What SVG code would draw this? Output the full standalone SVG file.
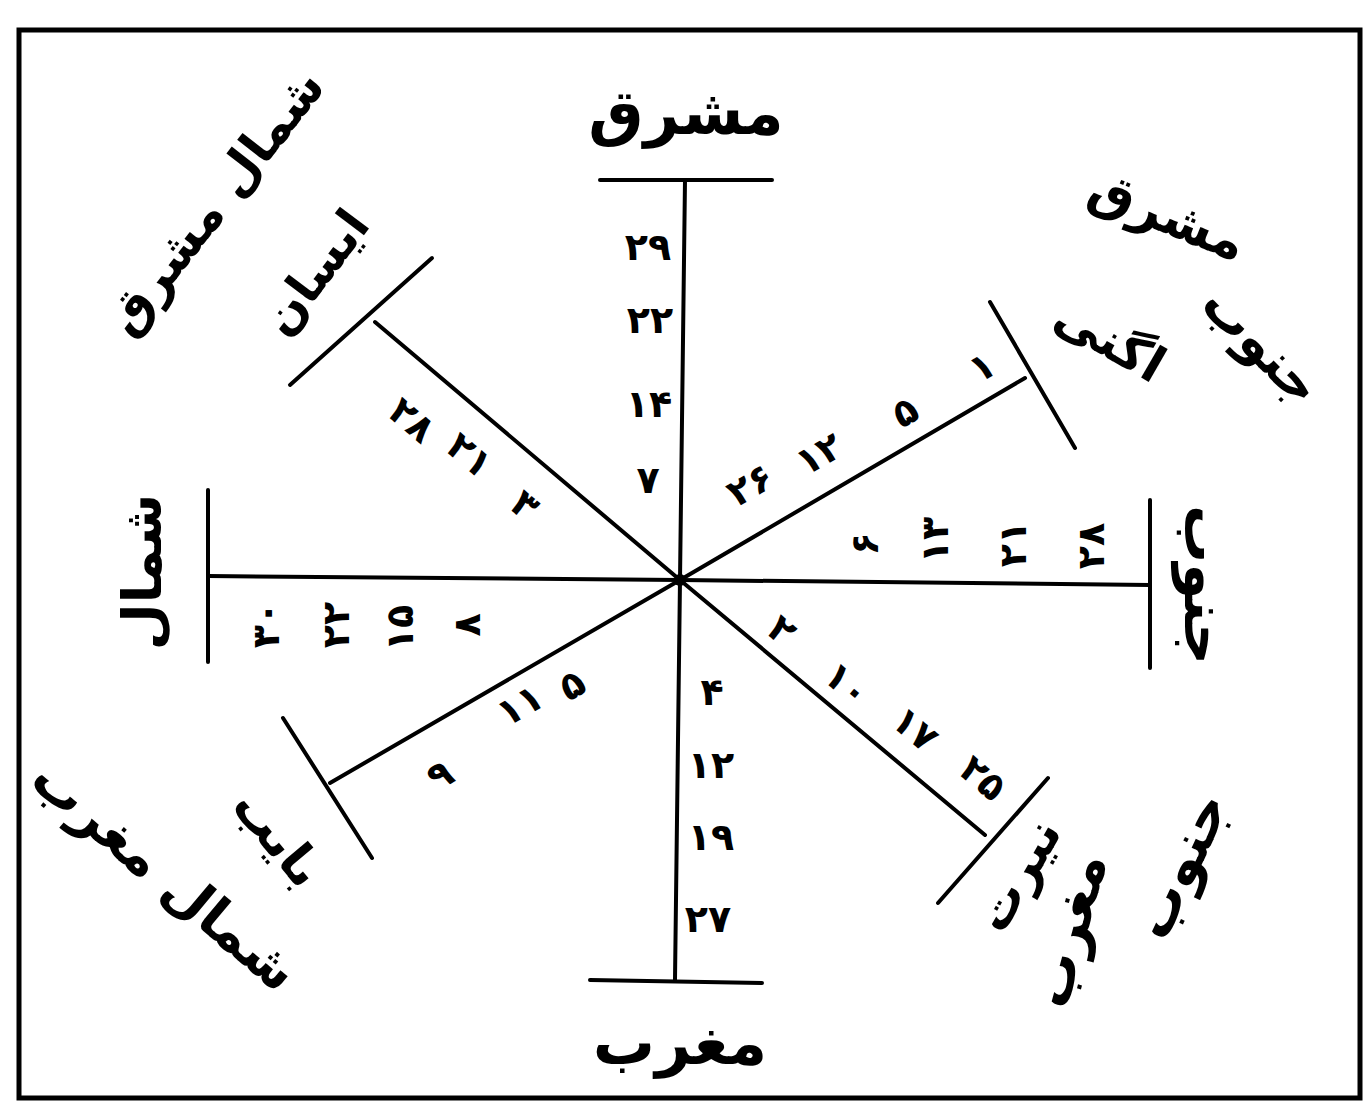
<svg xmlns="http://www.w3.org/2000/svg" width="1367" height="1112" viewBox="0 0 1367 1112">
<style>
.ln{stroke:#000;stroke-width:4;fill:none;stroke-linecap:round}
.frame{stroke:#000;stroke-width:5;fill:none}
.lbl{font-family:"DejaVu Sans",sans-serif;font-weight:bold;fill:#000;text-anchor:middle;dominant-baseline:central}
.num{font-family:"DejaVu Sans",sans-serif;font-weight:bold;fill:#000;text-anchor:middle;dominant-baseline:central;font-size:38px}
</style>
<rect width="1367" height="1112" fill="#fff"/>
<rect class="frame" x="19" y="30" width="1341" height="1068"/>
<g id="connectors">
<line class="ln" x1="680" y1="580" x2="685" y2="180"/>
<line class="ln" x1="600" y1="180" x2="772" y2="180"/>
<line class="ln" x1="680" y1="580" x2="675" y2="980"/>
<line class="ln" x1="590" y1="980" x2="762" y2="983"/>
<line class="ln" x1="680" y1="580" x2="208" y2="576"/>
<line class="ln" x1="208" y1="490" x2="208" y2="662"/>
<line class="ln" x1="680" y1="580" x2="1150" y2="585"/>
<line class="ln" x1="1150" y1="500" x2="1150" y2="668"/>
<line class="ln" x1="680" y1="580" x2="375" y2="322"/>
<line class="ln" x1="290" y1="385" x2="432" y2="258"/>
<line class="ln" x1="680" y1="580" x2="1025" y2="378"/>
<line class="ln" x1="990" y1="302" x2="1075" y2="448"/>
<line class="ln" x1="680" y1="580" x2="985" y2="835"/>
<line class="ln" x1="938" y1="903" x2="1048" y2="778"/>
<line class="ln" x1="680" y1="580" x2="330" y2="783"/>
<line class="ln" x1="283" y1="718" x2="372" y2="858"/>
<circle cx="680" cy="580" r="6" fill="#000"/>
</g>
<g id="node-east">
<text class="lbl" x="686" y="112" font-size="62">مشرق</text>
<text class="num" x="648" y="247">۲۹</text>
<text class="num" x="650" y="320">۲۲</text>
<text class="num" x="649" y="404">۱۴</text>
<text class="num" x="648" y="480">۷</text>
</g>
<g id="node-west">
<text class="lbl" x="680" y="1042" font-size="62">مغرب</text>
<text class="num" x="712" y="692">۴</text>
<text class="num" x="711" y="765">۱۲</text>
<text class="num" x="711" y="837">۱۹</text>
<text class="num" x="708" y="919">۲۷</text>
</g>
<g id="node-north">
<text class="lbl" font-size="54" transform="translate(142 572) rotate(-90)">شمال</text>
<text class="num" transform="translate(467 625) rotate(-90)">۸</text>
<text class="num" transform="translate(400 628) rotate(-90)">۱۵</text>
<text class="num" transform="translate(336 625) rotate(-90)">۲۲</text>
<text class="num" transform="translate(266 625) rotate(-90)">۳۰</text>
</g>
<g id="node-south">
<text class="lbl" font-size="58" transform="translate(1205 585) rotate(90)">جنوب</text>
<text class="num" transform="translate(865 544) rotate(-90)">۶</text>
<text class="num" transform="translate(935 540) rotate(-90)">۱۳</text>
<text class="num" transform="translate(1013 544) rotate(-90)">۲۱</text>
<text class="num" transform="translate(1091 546) rotate(-90)">۲۸</text>
</g>
<g id="node-northeast">
<text class="lbl" font-size="50" transform="translate(215 202) rotate(-52)">شمال مشرق</text>
<text class="lbl" font-size="48" transform="translate(315 272) rotate(-53)">ایسان</text>
<text class="num" transform="translate(412 420) rotate(40)">۲۸</text>
<text class="num" transform="translate(470 455) rotate(40)">۲۱</text>
<text class="num" transform="translate(525 505) rotate(40)">۳</text>
</g>
<g id="node-southeast">
<text class="lbl" font-size="52" transform="translate(1168 215) rotate(22)">مشرق</text>
<text class="lbl" font-size="52" transform="translate(1262 345) rotate(45)">جنوب</text>
<text class="lbl" font-size="50" transform="translate(1110 340) rotate(30)">اگنی</text>
<text class="num" transform="translate(750 485) rotate(-30)">۲۶</text>
<text class="num" transform="translate(819 454) rotate(-30)">۱۲</text>
<text class="num" transform="translate(905 412) rotate(-30)">۵</text>
<text class="num" transform="translate(982 367) rotate(-30)">۱</text>
</g>
<g id="node-southwest">
<text class="lbl" font-size="56" transform="translate(1180 865) rotate(-65)">جنوب</text>
<text class="lbl" font-size="56" transform="translate(1068 930) rotate(-75)">مغرب</text>
<text class="lbl" font-size="50" transform="translate(1018 875) rotate(-60)">نیرت</text>
<text class="num" transform="translate(782 630) rotate(40)">۲</text>
<text class="num" transform="translate(847 684) rotate(40)">۱۰</text>
<text class="num" transform="translate(915 729) rotate(40)">۱۷</text>
<text class="num" transform="translate(983 778) rotate(40)">۲۵</text>
</g>
<g id="node-northwest">
<text class="lbl" font-size="54" transform="translate(165 875) rotate(40)">شمال مغرب</text>
<text class="lbl" font-size="50" transform="translate(278 838) rotate(50)">بایب</text>
<text class="num" transform="translate(572 685) rotate(-30)">۵</text>
<text class="num" transform="translate(520 705) rotate(-30)">۱۱</text>
<text class="num" transform="translate(440 775) rotate(-30)">۹</text>
</g>
</svg>
